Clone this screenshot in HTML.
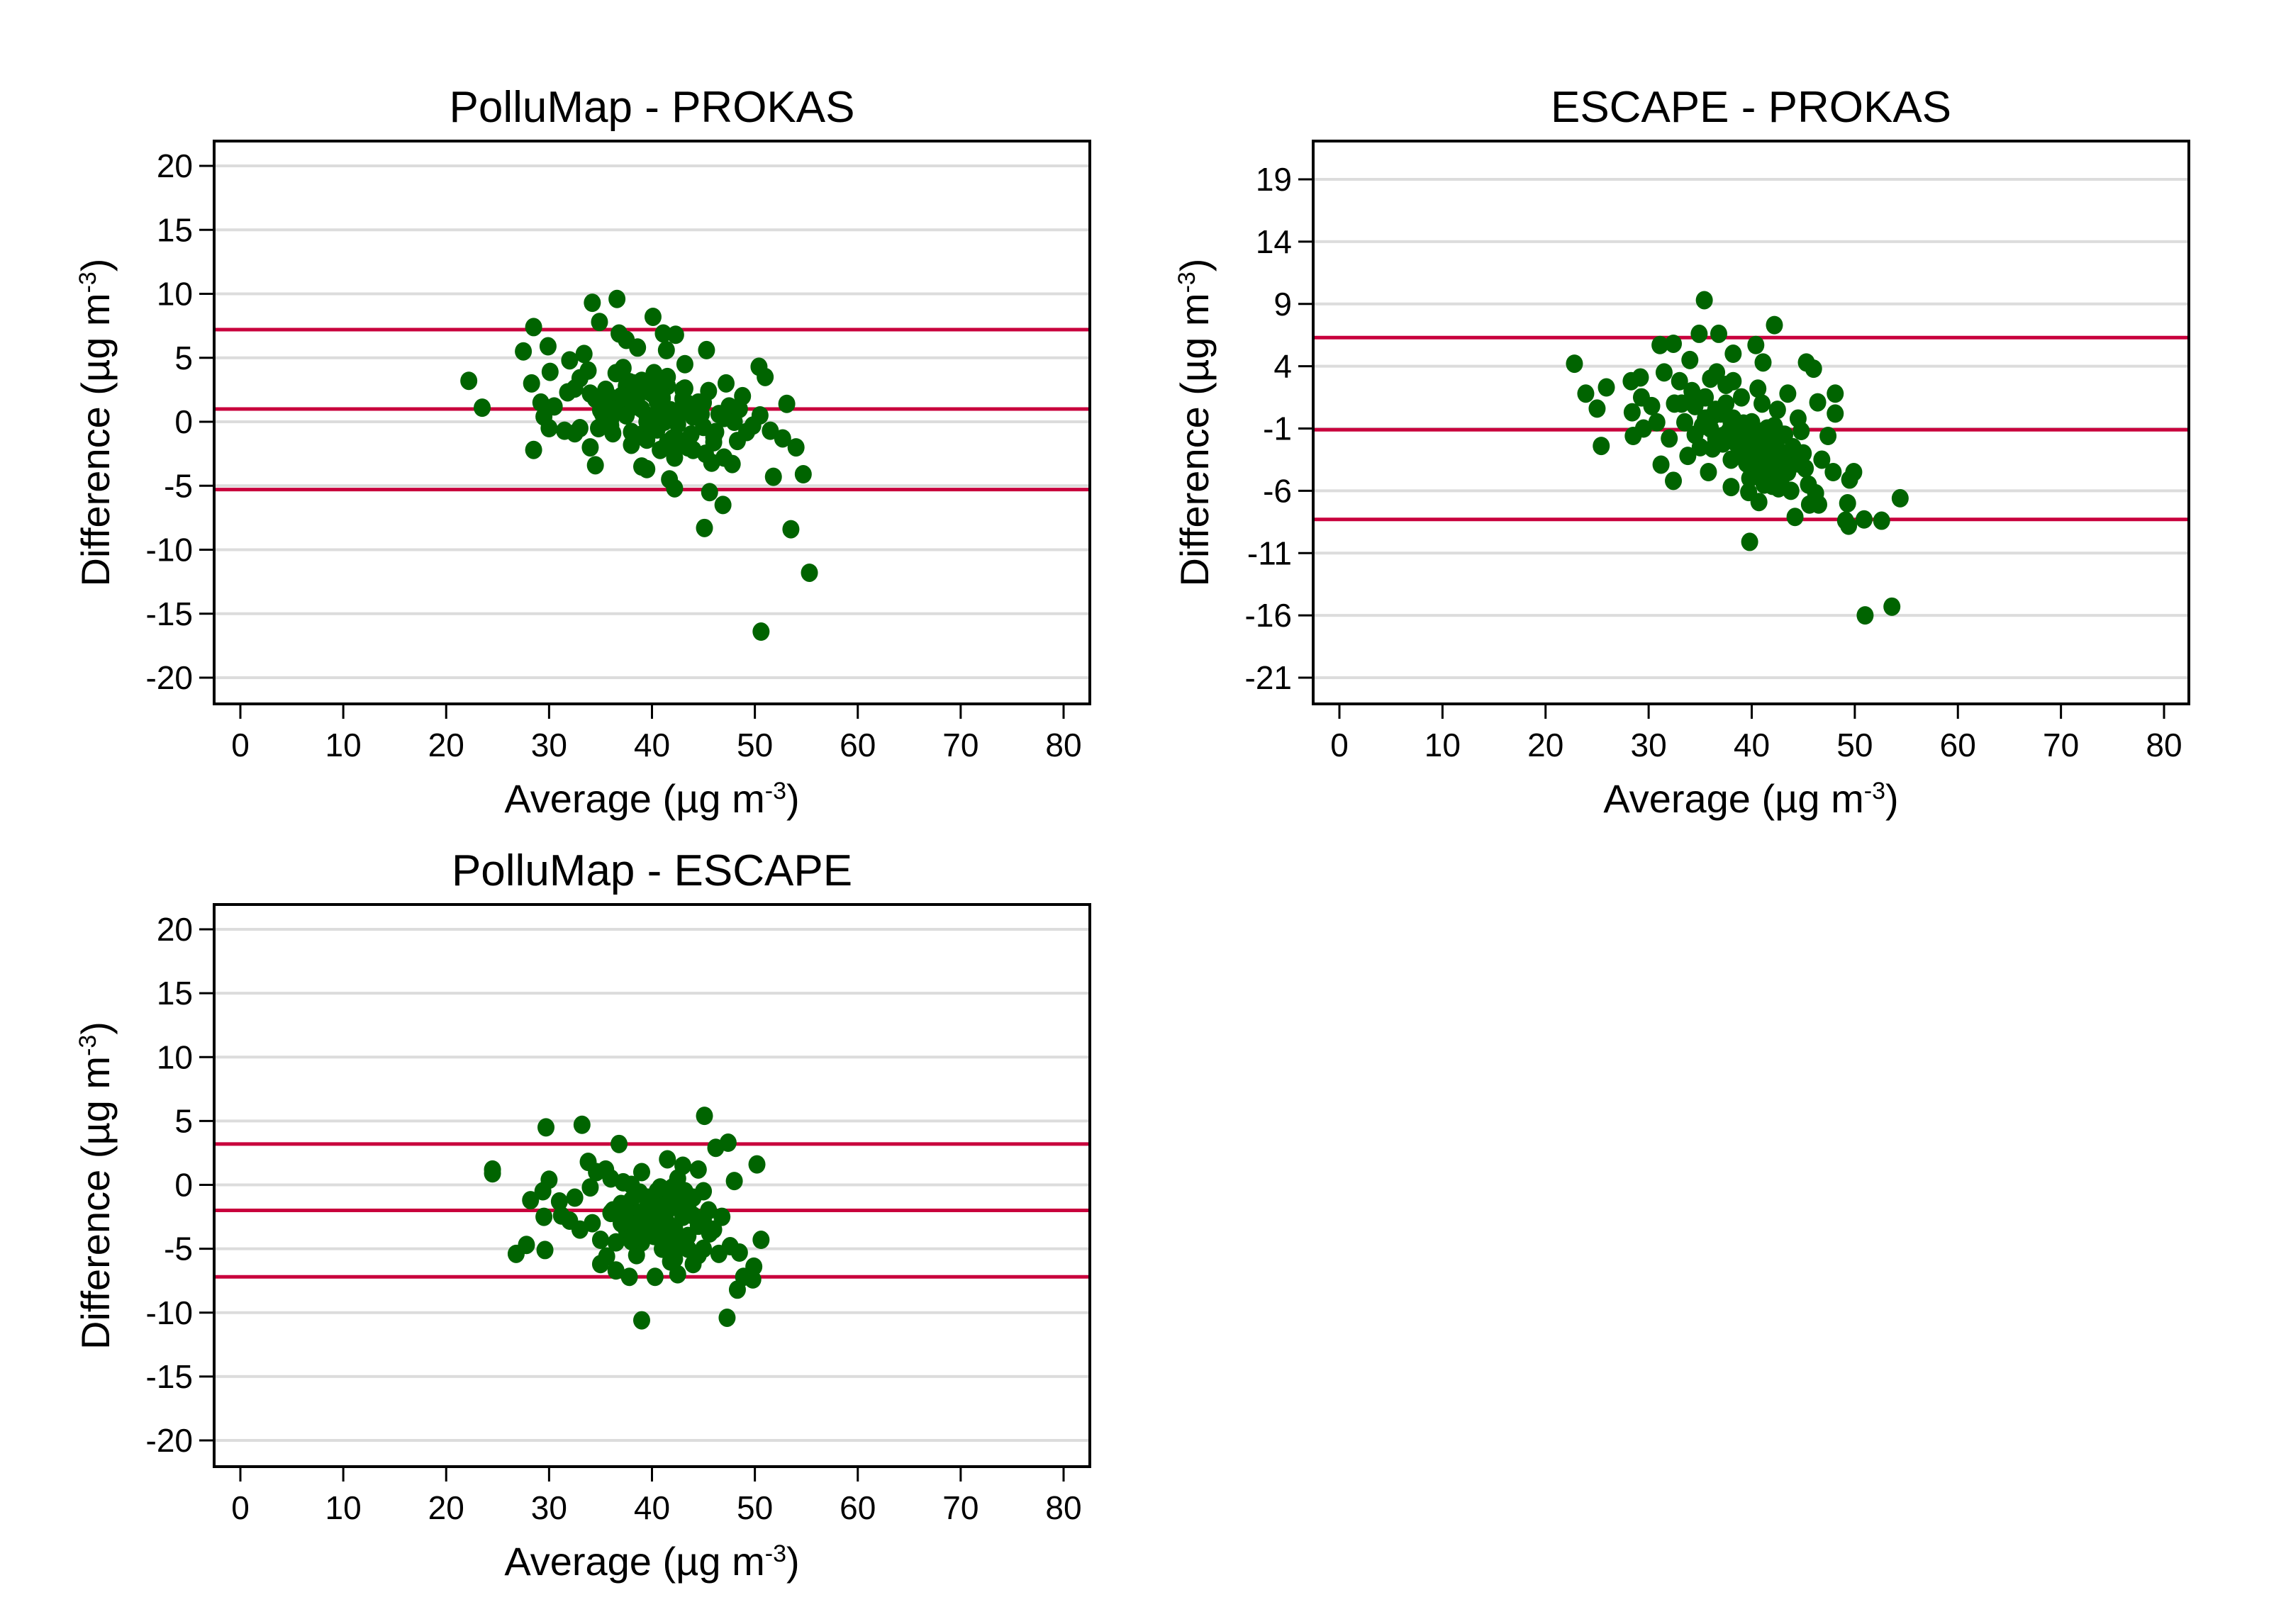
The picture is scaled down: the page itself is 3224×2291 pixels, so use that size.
<!DOCTYPE html>
<html><head><meta charset="utf-8"><style>
html,body{margin:0;padding:0;background:#fff}
svg{display:block;font-family:"Liberation Sans",sans-serif}
</style></head><body>
<svg id="chart" width="3224" height="2291" viewBox="0 0 3224 2291" xmlns="http://www.w3.org/2000/svg"></svg>
<script>
// ---- data ----
const xTicks = [0,10,20,30,40,50,60,70,80];
const yTicks1 = [20,15,10,5,0,-5,-10,-15,-20];
const yTicks2 = [19,14,9,4,-1,-6,-11,-16,-21];
const yTicks3 = [20,15,10,5,0,-5,-10,-15,-20];
const titles = ["PolluMap - PROKAS","ESCAPE - PROKAS","PolluMap - ESCAPE"];
const limits1 = [7.2,1.0,-5.3];
const limits2 = [6.3,-1.1,-8.3];
const limits3 = [3.2,-2.0,-7.2];
const avg1 = [22.2,23.5,27.5,28.3,28.5,28.5,29.9,34.2,36.6,34.9,40.1,36.8,37.5,38.6,41.1,42.3,41.4,45.3,50.4,51.0,53.1,51.5,52.7,54.0,51.8,54.7,46.9,45.6,45.1,53.5,55.3,50.6,34.5,34.0,39.5,42.2,41.7,47.8,49.8,50.5,48.8,47.2,29.5,30.0,31.5,32.0,33.4,30.1,29.2,30.5,32.5,33.0,34.5,35.5,36.0,36.5,37.0,37.5,38.0,38.5,39.0,39.5,40.0,40.5,41.0,41.5,42.0,42.5,43.0,43.5,44.0,44.5,45.0,45.5,46.0,46.5,47.0,35.2,36.2,37.2,38.2,39.2,40.2,41.2,42.2,43.2,44.2,45.2,46.2,47.5,48.3,33.8,35.8,37.8,39.8,41.8,43.8,45.8,38.8,40.8,42.8,44.8,36.8,34.8,31.8,43.5,44.5,39.0,41.0,35.0,48.0,49.2,
 36.0,37.0,38.0,39.0,40.0,41.0,42.0,43.0,44.0,36.5,37.5,38.5,39.5,40.5,41.5,42.5,43.5,37.2,38.2,39.2,40.2,41.2,42.2,43.2,38.0,39.0,40.0,41.0,42.0,33.0,34.0,35.0,45.0,46.0,47.0,32.5,48.5,40.5,39.5,41.5];
const diff1 = [3.2,1.1,5.5,3.0,7.4,-2.2,5.9,9.3,9.6,7.8,8.2,6.9,6.4,5.8,6.9,6.8,5.6,5.6,4.3,3.5,1.4,-0.7,-1.3,-2.0,-4.3,-4.1,-6.5,-5.5,-8.3,-8.4,-11.8,-16.4,-3.4,-2.0,-3.7,-5.2,-4.5,-3.3,-0.3,0.5,2.0,3.0,0.4,-0.5,-0.7,4.8,5.3,3.9,1.5,1.2,2.6,-0.5,1.8,2.5,0.2,3.8,1.0,2.8,-1.8,1.5,3.2,0.5,2.2,-0.6,1.8,3.5,0.2,-1.4,2.5,0.8,-2.2,1.5,-0.4,2.4,-1.6,0.6,-2.8,0.6,-0.9,4.2,1.2,-1.2,3.8,0.0,-2.8,4.5,1.0,-2.5,-0.8,1.2,-1.5,4.0,2.0,3.1,-0.2,0.9,-1.0,-3.2,2.7,-2.2,-1.8,0.6,1.4,-0.5,2.3,-2.0,0.8,-3.5,3.0,1.5,0.0,-0.8,-0.3,
 2.0,1.5,1.0,2.5,1.2,0.8,1.8,0.4,1.0,0.5,2.2,0.0,1.6,2.8,-0.2,1.4,2.0,3.0,2.4,0.2,3.2,0.6,2.6,-0.8,-1.0,-0.6,1.9,-1.3,3.4,2.2,0.9,1.5,-1.2,0.3,-0.9,1.0,0.4,-1.4,-1.6,-1.1];
const avg2 = [22.8,23.9,25.0,25.9,25.4,28.3,29.2,28.4,28.5,29.5,29.3,30.3,31.1,32.4,35.4,34.9,36.8,42.2,40.4,38.2,41.1,45.3,46.0,48.1,48.1,46.4,47.4,46.8,47.9,49.9,49.5,49.3,49.4,49.1,50.9,52.6,54.4,51.0,53.6,39.8,44.2,32.4,31.2,38.0,39.7,40.7,46.2,46.5,45.6,31.5,32.5,33.0,33.5,34.0,34.5,35.0,35.5,36.0,36.5,37.0,37.5,38.0,38.5,39.0,39.5,40.0,40.5,41.0,41.5,42.0,42.5,43.0,43.5,44.0,44.5,45.0,45.5,33.8,35.8,37.8,39.8,41.8,43.8,34.2,36.2,38.2,40.2,42.2,44.2,37.2,39.2,41.2,43.2,45.2,36.6,40.6,42.6,44.8,33.2,30.8,32.0,41.5,42.8,43.5,
 36.0,37.0,38.0,39.0,40.0,41.0,42.0,43.0,36.5,37.5,38.5,39.5,40.5,41.5,42.5,35.2,36.2,37.2,38.2,39.2,40.2,41.2,42.2,40.0,41.0,42.0,43.0,34.5,35.5,44.5,39.5,40.5];
const diff2 = [4.2,1.8,0.6,2.3,-2.4,2.8,3.1,0.3,-1.6,-1.0,1.5,0.8,5.7,5.8,9.3,6.6,6.6,7.3,5.7,5.0,4.3,4.3,3.8,1.8,0.2,1.1,-1.6,-3.5,-4.5,-4.5,-5.1,-7.0,-8.8,-8.4,-8.3,-8.4,-6.6,-16.0,-15.3,-10.1,-8.1,-5.2,-3.9,-5.7,-6.1,-6.9,-6.2,-7.1,-7.1,3.5,1.0,2.8,-0.5,4.5,0.8,-2.5,1.5,3.0,-1.8,0.2,2.5,-3.5,-0.8,1.5,-2.8,-0.5,-4.0,1.0,-2.0,-3.8,0.5,-1.5,-4.5,-2.5,-0.2,-3.0,-5.5,-3.2,-4.5,-1.2,-5.0,-2.8,-6.0,2.0,0.0,2.8,-1.5,-0.8,-3.6,-2.2,-3.2,-5.5,-1.5,-4.2,3.5,2.2,-5.8,-1.2,1.0,-0.5,-1.8,-1.0,-2.9,1.8,
 -1.0,-2.0,-0.5,-1.5,-2.5,-3.0,-2.0,-3.5,0.5,1.0,-2.2,-3.2,-1.2,-4.2,-2.8,-0.8,-2.6,-1.6,-0.2,-0.6,-1.8,-2.4,-4.8,-4.5,-5.0,-5.6,-4.8,-1.5,-0.2,-3.8,-3.8,-2.0];
const avg3 = [24.5,24.5,29.7,33.2,36.8,45.1,47.4,46.2,50.2,28.2,29.4,30.0,29.5,27.8,26.8,29.6,39.0,47.3,48.3,49.8,48.9,49.9,50.6,48.5,35.0,34.2,33.0,32.0,31.0,34.0,33.8,35.5,37.8,35.0,36.5,40.3,42.5,46.5,48.0,45.0,44.5,43.0,41.5,39.0,36.0,37.0,37.5,38.0,38.5,39.0,39.5,40.0,40.5,41.0,41.5,42.0,42.5,43.0,43.5,44.0,44.5,45.0,45.5,46.0,36.5,37.5,38.5,39.5,40.5,41.5,42.5,43.5,44.5,38.2,39.2,40.2,41.2,42.2,43.2,38.8,40.8,42.8,41.8,39.8,37.2,36.2,35.6,46.8,47.6,44.0,42.0,40.0,38.0,34.6,32.5,31.2,45.6,
 38.0,39.0,40.0,41.0,42.0,43.0,38.5,39.5,40.5,41.5,42.5,37.5,39.2,40.2,41.2,42.2,38.8,40.8,42.8,37.0,44.0,43.5,36.0,45.0,39.8,41.8];
const diff3 = [1.2,0.9,4.5,4.7,3.2,5.4,3.3,2.9,1.6,-1.2,-0.5,0.4,-2.5,-4.7,-5.4,-5.1,-10.6,-10.4,-8.2,-7.4,-7.2,-6.4,-4.3,-5.3,-4.3,-3.0,-3.5,-2.8,-1.3,-0.2,1.8,1.2,-7.2,-6.2,-6.7,-7.2,-7.0,-5.4,0.3,-0.5,1.2,1.5,2.0,1.0,0.5,-1.5,-3.5,0.0,-2.5,-4.5,-1.0,-3.0,-0.5,-5.0,-2.0,-3.8,0.5,-2.5,-4.0,-1.0,-3.2,-5.0,-2.0,-3.5,-4.5,-2.8,-5.5,-1.8,-3.8,-0.8,-4.6,-1.8,-5.5,-2.2,-4.0,-1.5,-3.0,-5.8,-0.5,-3.3,-2.6,-4.2,-6.0,-1.8,0.2,-2.0,-5.6,-2.5,-4.8,-6.2,-0.2,-3.0,-4.4,1.0,-1.0,-2.4,-3.8,
 -1.2,-2.2,-1.8,-2.8,-1.5,-2.4,-3.8,-1.0,-2.4,-3.0,-1.2,-2.0,-3.6,-4.0,-1.6,-3.4,-0.6,-0.2,-0.8,-3.0,-2.4,-5.0,-2.2,-2.8,-2.0,-4.6];

// ---- layout ----
const panels = [
 {name:"pollumap-prokas", title:titles[0], x0:302,x1:1537,y0:199,y1:993, xa:339,xb:1500, yTicks:yTicks1, ya:234, yb:956, lim:limits1, avg:avg1, diff:diff1},
 {name:"escape-prokas", title:titles[1], x0:1852,x1:3087,y0:199,y1:993, xa:1889,xb:3052, yTicks:yTicks2, ya:253, yb:956, lim:limits2, avg:avg2, diff:diff2},
 {name:"pollumap-escape", title:titles[2], x0:302,x1:1537,y0:1276,y1:2069, xa:339,xb:1500, yTicks:yTicks3, ya:1311, yb:2032, lim:limits3, avg:avg3, diff:diff3}
];
const NS="http://www.w3.org/2000/svg";
const svg=document.getElementById('chart');
function mk(tag,attrs,parent,text){const e=document.createElementNS(NS,tag);for(const k in attrs)e.setAttribute(k,attrs[k]);if(text!==undefined)e.textContent=text;parent.appendChild(e);return e;}

panels.forEach(p=>{
  const g=mk('g',{},svg);
  
  
  const yMax=p.yTicks[0], yMin=p.yTicks[p.yTicks.length-1];
  const sx=v=>p.xa+(v-xTicks[0])/(xTicks[xTicks.length-1]-xTicks[0])*(p.xb-p.xa);
  const sy=v=>p.ya+(yMax-v)/(yMax-yMin)*(p.yb-p.ya);
  const cx=(p.x0+p.x1)/2, cy=(p.y0+p.y1)/2;
  const t=mk('text',{x:cx,y:p.y0-27,'text-anchor':'middle','font-size':62,fill:'#000'},g,p.title);
  
  
  p.yTicks.forEach(v=>{
    const l=mk('line',{x1:p.x0,x2:p.x1,y1:sy(v),y2:sy(v),stroke:'#dcdcdc','stroke-width':4},g);
    
    
    const tk=mk('line',{x1:p.x0-21,x2:p.x0,y1:sy(v),y2:sy(v),stroke:'#000','stroke-width':3},g);
    
    
    const lb=mk('text',{x:p.x0-30,y:sy(v)+16,'text-anchor':'end','font-size':46,fill:'#000'},g,String(v));
    
    
  });
  xTicks.forEach(v=>{
    const tk=mk('line',{x1:sx(v),x2:sx(v),y1:p.y1,y2:p.y1+21,stroke:'#000','stroke-width':3},g);
    
    
    const lb=mk('text',{x:sx(v),y:p.y1+74,'text-anchor':'middle','font-size':46,fill:'#000'},g,String(v));
    
    
  });
  p.lim.forEach(v=>{
    const l=mk('line',{x1:p.x0,x2:p.x1,y1:sy(v),y2:sy(v),stroke:'#c8003c','stroke-width':5},g);
    
    
  });
  p.avg.forEach((a,i)=>{
    const c=mk('ellipse',{cx:sx(a),cy:sy(p.diff[i]),rx:12,ry:13,fill:'#006400'},g);
    
    
  });
  const fr=mk('rect',{x:p.x0,y:p.y0,width:p.x1-p.x0,height:p.y1-p.y0,fill:'none',stroke:'#000','stroke-width':4},g);
  
  
  const xt=mk('text',{x:cx,y:p.y1+153,'text-anchor':'middle','font-size':56,fill:'#000'},g);
  
  
  mk('tspan',{},xt,'Average (µg m');
  mk('tspan',{'baseline-shift':'super','font-size':34},xt,'-3');
  mk('tspan',{},xt,')');
  const tx=p.x0-148;
  const yt=mk('text',{x:tx,y:cy,'text-anchor':'middle','font-size':56,fill:'#000',transform:`rotate(-90 ${tx} ${cy})`},g);
  
  
  mk('tspan',{},yt,'Difference  (µg m');
  mk('tspan',{'baseline-shift':'super','font-size':34},yt,'-3');
  mk('tspan',{},yt,')');
});
</script>
</body></html>
